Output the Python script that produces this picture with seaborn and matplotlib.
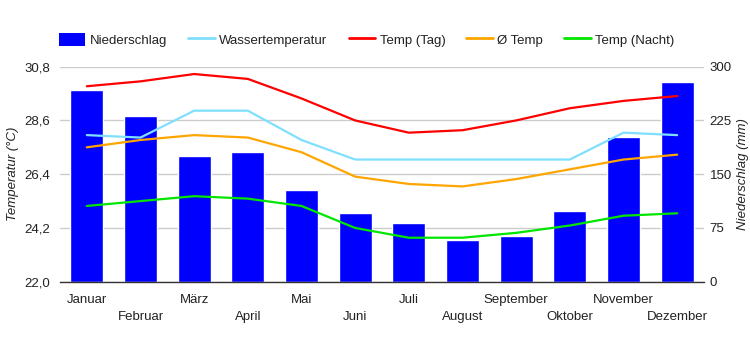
import pandas as pd
import seaborn as sns
import matplotlib
matplotlib.use("Agg")
import matplotlib.pyplot as plt
from matplotlib.patches import Patch
from matplotlib.lines import Line2D
from matplotlib.ticker import FuncFormatter

months = ['Januar', 'Februar', 'März', 'April', 'Mai', 'Juni', 'Juli',
          'August', 'September', 'Oktober', 'November', 'Dezember']
niederschlag = [268, 231, 175, 181, 128, 96, 82, 58, 64, 99, 202, 279]
temp_tag = [30.0, 30.2, 30.5, 30.3, 29.5, 28.6, 28.1, 28.2, 28.6, 29.1, 29.4, 29.6]
wassertemp = [28.0, 27.9, 29.0, 29.0, 27.8, 27.0, 27.0, 27.0, 27.0, 27.0, 28.1, 28.0]
temp_avg = [27.5, 27.8, 28.0, 27.9, 27.3, 26.3, 26.0, 25.9, 26.2, 26.6, 27.0, 27.2]
temp_nacht = [25.1, 25.3, 25.5, 25.4, 25.1, 24.2, 23.8, 23.8, 24.0, 24.3, 24.7, 24.8]

temp_ticks = [22.0, 24.2, 26.4, 28.6, 30.8]
rain_ticks = [0, 75, 150, 225, 300]

c_bar = '#0000ff'
c_wasser = '#80dfff'
c_tag = '#ff0000'
c_avg = '#ffa500'
c_nacht = '#00e600'

sns.set_style('white')
plt.rcParams['font.family'] = ['Liberation Sans', 'DejaVu Sans']
txt = '#222222'

df = pd.DataFrame({'Monat': months, 'Niederschlag': niederschlag,
                   'Tag': temp_tag, 'Wasser': wassertemp,
                   'Avg': temp_avg, 'Nacht': temp_nacht})

fig = plt.figure(figsize=(7.5, 3.5), dpi=100)
ax = fig.add_axes([60 / 750, 1 - 281.7 / 350, 644 / 750, 215 / 350])
ax2 = ax.twinx()

# bars on the right (precipitation) axis, behind the lines
sns.barplot(data=df, x='Monat', y='Niederschlag', order=months, color=c_bar,
            saturation=1, width=0.61, ax=ax2)
ax2.set_ylim(0, 300)
ax2.set_yticks(rain_ticks)
ax2.yaxis.grid(True, color='#cccccc', linewidth=1)
ax2.set_axisbelow(True)
ax2.set_ylabel('Niederschlag (mm)', fontsize=9.5, style='italic', color=txt, labelpad=4)
ax2.tick_params(axis='y', length=0, labelsize=9.5, labelcolor=txt, pad=4)

for name, col in [('Wasser', c_wasser), ('Tag', c_tag), ('Avg', c_avg), ('Nacht', c_nacht)]:
    sns.lineplot(data=df, x='Monat', y=name, color=col, linewidth=1.6, ax=ax)

ax.set_zorder(ax2.get_zorder() + 1)
ax.patch.set_visible(False)
ax.set_ylim(22.0, 30.8)
ax.set_yticks(temp_ticks)
ax.yaxis.set_major_formatter(FuncFormatter(lambda v, p: f'{v:.1f}'.replace('.', ',')))
ax.set_ylabel('Temperatur (°C)', fontsize=9.5, style='italic', color=txt, labelpad=4)
ax.set_xlabel('')
ax2.set_xlabel('')
ax.set_xlim(-0.5, 11.5)
ax.tick_params(axis='y', length=0, labelsize=9.5, labelcolor=txt, pad=7)
ax.tick_params(axis='x', length=0, labelsize=9.5, labelcolor=txt, pad=9)
for i, tick in enumerate(ax.xaxis.get_major_ticks()):
    if i % 2 == 1:
        tick.set_pad(21)

for a in (ax, ax2):
    for s in a.spines.values():
        s.set_visible(False)
ax2.spines['bottom'].set_visible(True)
ax2.spines['bottom'].set_color('#333333')
ax2.spines['bottom'].set_linewidth(1)

handles = [
    Patch(facecolor=c_bar, edgecolor='none'),
    Line2D([], [], color=c_wasser, linewidth=2),
    Line2D([], [], color=c_tag, linewidth=2),
    Line2D([], [], color=c_avg, linewidth=2),
    Line2D([], [], color=c_nacht, linewidth=2),
]
labels = ['Niederschlag', 'Wassertemperatur', 'Temp (Tag)', 'Ø Temp', 'Temp (Nacht)']
fig.legend(handles, labels, loc='center', bbox_to_anchor=(0.489, 0.886), ncol=5,
           frameon=False, fontsize=9.5, handlelength=2.0, handleheight=1.2,
           handletextpad=0.35, columnspacing=1.6, labelcolor=txt)

fig.savefig('out.png', dpi=100)
